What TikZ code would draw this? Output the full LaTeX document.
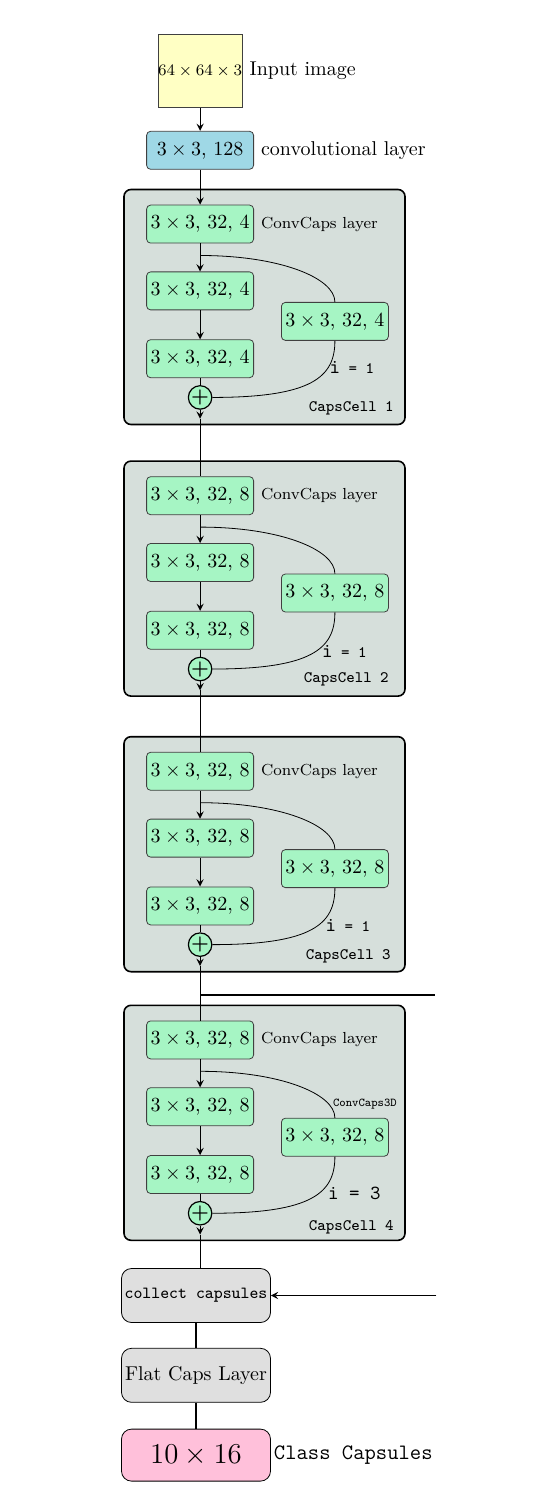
\documentclass[tikz,border=0pt]{standalone}
\usetikzlibrary{shapes,arrows,positioning}

\definecolor{inputyellow}{HTML}{FFFFC4}
\definecolor{convblue}{HTML}{9FD8E6}
\definecolor{capsgreen}{HTML}{A6F5C4}
\definecolor{cellgray}{HTML}{D6DFDB}
\definecolor{blockgray}{HTML}{DFDFDF}
\definecolor{classpink}{HTML}{FFC0DA}

\begin{document}
\begin{tikzpicture}[
            x=0.5pt, y=-0.5pt,
            >=stealth,
            layer/.style={rectangle, draw=black!75, fill=capsgreen, rounded corners=2pt, minimum width=53.5pt, minimum height=19pt, inner sep=1pt},
            cell/.style={rectangle, draw, thick, fill=cellgray, rounded corners=3.5pt, minimum width=140.5pt, minimum height=117.5pt},
            plusnode/.style={circle, draw, semithick, fill=capsgreen, inner sep=0pt, minimum size=10.5pt},
            block/.style={rectangle, draw, fill=blockgray, rounded corners=5pt, minimum width=74.5pt, minimum height=27pt, inner sep=1.5pt},
            note/.style={font=\footnotesize},
            celltag/.style={font=\ttfamily\footnotesize},
            itag/.style={font=\ttfamily},
            arrow/.style={->, semithick},
            link/.style={semithick}
        ]
            \useasboundingbox (0,0) rectangle (534,1492);

            % CapsCell 1
            \node[cell] (cell1) at (264.5,307) {};
            \node[layer, below right=8pt and 11.5pt of cell1.north west] (A1) {$3\times3$, 32, 4};
            \node[layer, below=14pt of A1] (B1) {$3\times3$, 32, 4};
            \node[layer, below=14.5pt of B1] (C1) {$3\times3$, 32, 4};
            \node[layer, right=13.5pt of B1, yshift=-15.25pt] (D1) {$3\times3$, 32, 4};
            \node[plusnode, below=3.5pt of C1] (plus1) {\textbf{+}};
            \coordinate[below=6pt of A1] (fork1);
            \coordinate[below=4.5pt of plus1] (out1);
            \node[note, right=0pt of A1] (note1) {ConvCaps layer};
            \node[itag, below=7pt of D1, xshift=8.5pt] (iter1) {i{\footnotesize\ = 1}};
            \node[celltag, above left=1.5pt and 2.5pt of cell1.south east] (tag1) {CapsCell 1};

            % Input and first convolution
            \node[layer, fill=convblue, above=17.5pt of A1] (conv) {$3\times3$, 128};
            \node[rectangle, draw=black!75, fill=inputyellow, minimum width=40pt, minimum height=36.5pt, inner sep=0pt, font=\footnotesize, above=11.5pt of conv] (input) {$64\times64\times3$};
            \node[right=0pt of input] (inlabel) {Input image};
            \node[right=0pt of conv] (convlabel) {convolutional layer};

            % CapsCell 2
            \node[cell, below=17.5pt of cell1] (cell2) {};
            \node[layer, below right=8pt and 11.5pt of cell2.north west] (A2) {$3\times3$, 32, 8};
            \node[layer, below=14pt of A2] (B2) {$3\times3$, 32, 8};
            \node[layer, below=14.5pt of B2] (C2) {$3\times3$, 32, 8};
            \node[layer, right=13.5pt of B2, yshift=-15.25pt] (D2) {$3\times3$, 32, 8};
            \node[plusnode, below=3.5pt of C2] (plus2) {\textbf{+}};
            \coordinate[below=6pt of A2] (fork2);
            \coordinate[below=4.5pt of plus2] (out2);
            \node[note, right=0pt of A2] (note2) {ConvCaps layer};
            \node[itag, below=13pt of D2, xshift=4.75pt] (iter2) {i{\footnotesize\ = 1}};
            \node[celltag, above left=2pt and 5pt of cell2.south east] (tag2) {CapsCell 2};

            % CapsCell 3
            \node[cell, below=19.5pt of cell2] (cell3) {};
            \node[layer, below right=8pt and 11.5pt of cell3.north west] (A3) {$3\times3$, 32, 8};
            \node[layer, below=14pt of A3] (B3) {$3\times3$, 32, 8};
            \node[layer, below=14.5pt of B3] (C3) {$3\times3$, 32, 8};
            \node[layer, right=13.5pt of B3, yshift=-15.25pt] (D3) {$3\times3$, 32, 8};
            \node[plusnode, below=3.5pt of C3] (plus3) {\textbf{+}};
            \coordinate[below=6pt of A3] (fork3);
            \coordinate[below=4.5pt of plus3] (out3);
            \coordinate[below=14.5pt of out3] (split);
            \coordinate[right=117.5pt of split] (tap);
            \node[note, right=0pt of A3] (note3) {ConvCaps layer};
            \node[itag, below=12pt of D3, xshift=6.5pt] (iter3) {i{\footnotesize\ = 1}};
            \node[celltag, above left=1pt and 4pt of cell3.south east] (tag3) {CapsCell 3};

            % CapsCell 4
            \node[cell, below=16pt of cell3] (cell4) {};
            \node[layer, below right=8pt and 11.5pt of cell4.north west] (A4) {$3\times3$, 32, 8};
            \node[layer, below=14pt of A4] (B4) {$3\times3$, 32, 8};
            \node[layer, below=14.5pt of B4] (C4) {$3\times3$, 32, 8};
            \node[layer, right=13.5pt of B4, yshift=-15.25pt] (D4) {$3\times3$, 32, 8};
            \node[plusnode, below=3.5pt of C4] (plus4) {\textbf{+}};
            \coordinate[below=6pt of A4] (fork4);
            \coordinate[below=4.5pt of plus4] (out4);
            \node[note, right=0pt of A4] (note4) {ConvCaps layer};
            \node[font=\ttfamily\fontsize{6}{7}\selectfont, inner sep=1pt, above=3pt of D4, xshift=15pt] (deep4) {ConvCaps3D};
            \node[itag, below=11.5pt of D4, xshift=9.75pt] (iter4) {i = 3};
            \node[celltag, above left=0pt and 2.5pt of cell4.south east] (tag4) {CapsCell 4};

            % Output part
            \node[block, below=13.5pt of cell4, xshift=-34.25pt] (collect) {\ttfamily\fontsize{8.5}{10}\selectfont collect capsules};
            \node[block, below=12.5pt of collect] (flat) {Flat Caps Layer};
            \node[block, fill=classpink, minimum height=26pt, font=\fontsize{13.5}{16}\selectfont, below=13pt of flat] (cls) {$10\times16$};
            \node[font=\ttfamily\fontsize{11}{13}\selectfont, right=-2pt of cls] (clslabel) {Class Capsules};
            \coordinate[right=82.75pt of collect] (feed);

            % Arrows
            \draw[arrow] (input) -- (conv);
            \draw[arrow] (conv) -- (A1);
            \draw[arrow] (A1) -- (B1);
            \draw[arrow] (B1) -- (C1);
            \draw[link] (C1) -- (plus1);
            \draw (fork1) .. controls ([xshift=40pt]fork1) and ([yshift=12pt]D1.north) .. (D1.north);
            \draw (D1.south) .. controls ([yshift=-18pt]D1.south) and ([xshift=50pt]plus1.east) .. (plus1.east);
            \draw[arrow] (plus1) -- (out1);
            \draw[link] (out1) -- (A2);

            \draw[arrow] (A2) -- (B2);
            \draw[arrow] (B2) -- (C2);
            \draw[link] (C2) -- (plus2);
            \draw (fork2) .. controls ([xshift=40pt]fork2) and ([yshift=12pt]D2.north) .. (D2.north);
            \draw (D2.south) .. controls ([yshift=-18pt]D2.south) and ([xshift=50pt]plus2.east) .. (plus2.east);
            \draw[arrow] (plus2) -- (out2);
            \draw[link] (out2) -- (A3);

            \draw[arrow] (A3) -- (B3);
            \draw[arrow] (B3) -- (C3);
            \draw[link] (C3) -- (plus3);
            \draw (fork3) .. controls ([xshift=40pt]fork3) and ([yshift=12pt]D3.north) .. (D3.north);
            \draw (D3.south) .. controls ([yshift=-18pt]D3.south) and ([xshift=50pt]plus3.east) .. (plus3.east);
            \draw[arrow] (plus3) -- (out3);
            \draw[link] (out3) -- (A4);
            \draw[link] (split) -- (tap);

            \draw[arrow] (A4) -- (B4);
            \draw[arrow] (B4) -- (C4);
            \draw[link] (C4) -- (plus4);
            \draw (fork4) .. controls ([xshift=40pt]fork4) and ([yshift=12pt]D4.north) .. (D4.north);
            \draw (D4.south) .. controls ([yshift=-18pt]D4.south) and ([xshift=50pt]plus4.east) .. (plus4.east);
            \draw[arrow] (plus4) -- (out4);
            \draw[link] (out4) -- (out4 |- collect.north);
            \draw[link] (collect) -- (flat);
            \draw[link] (flat) -- (cls);
            \draw[arrow] (feed) -- (collect);
        \end{tikzpicture}
\end{document}
